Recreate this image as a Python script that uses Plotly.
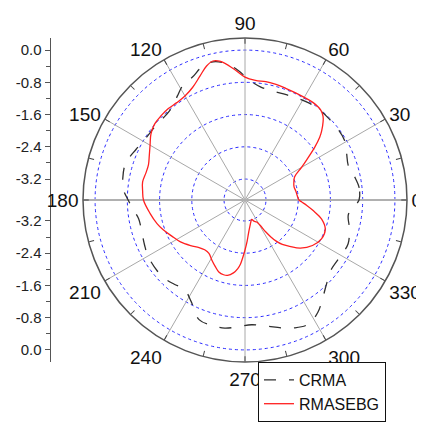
import plotly.graph_objects as go

# ---------------- data ----------------
rmasebg_theta = [0, 5, 10, 15, 20, 25, 30, 33, 37, 40, 42, 45, 47, 50, 55, 60, 65, 70, 75, 80, 85,
                 90, 95, 100, 103, 106, 110, 115, 120, 125, 130, 135, 140, 145, 150, 155, 160, 165,
                 170, 175, 180, 188, 195, 200, 206, 213, 220, 226, 231, 236, 241, 246, 250, 254,
                 257, 261, 264, 266, 268, 270, 273, 276, 280, 284, 289, 293, 298, 301, 303, 305,
                 307, 310, 314, 319, 326, 333, 340, 346, 351, 355, 358, 360]
rmasebg_r = [-2.38, -2.42, -2.44, -2.46, -2.43, -2.36, -2.10, -1.90, -1.56, -1.30, -1.16, -0.98,
             -0.88, -0.80, -0.77, -0.78, -0.78, -0.77, -0.75, -0.74, -0.74,
             -0.67, -0.45, -0.23, -0.18, -0.26, -0.45, -0.64, -0.74, -0.77, -0.76, -0.77, -0.79,
             -0.87, -1.00, -1.10, -1.17, -1.17, -1.14, -1.17, -1.20, -1.34, -1.46, -1.56, -1.69,
             -1.81, -1.96, -2.08, -2.13, -2.12, -2.02, -1.91, -1.82, -1.79, -1.80, -1.89, -2.01,
             -2.13, -2.31, -2.48, -2.70, -2.89, -3.04, -3.14, -3.21, -3.15, -3.10, -2.98, -2.78,
             -2.60, -2.45, -2.28, -2.12, -1.90, -1.70, -1.59, -1.60, -1.76, -2.00, -2.18, -2.31,
             -2.38]

crma_theta = [0, 6, 12, 18, 25, 31, 38, 45, 50, 57, 64, 70, 76, 82, 88, 93, 98, 103, 108, 113,
              118, 123, 128, 133, 140, 148, 155, 163, 170, 175, 180, 185, 190, 197, 204, 210,
              219, 225, 230, 236, 242, 249, 256, 261, 267, 273, 280, 286, 291, 297, 303, 309,
              315, 321, 330, 337, 345, 352, 357, 360]
crma_r = [-0.89, -0.87, -0.94, -1.02, -0.94, -0.84, -0.82, -0.82, -0.82, -0.84, -0.89, -0.92,
          -0.93, -0.89, -0.74, -0.50, -0.30, -0.20, -0.25, -0.40, -0.47, -0.64, -0.79, -0.84,
          -0.84, -0.82, -0.74, -0.62, -0.64, -0.69, -0.82, -0.94, -1.04, -1.04, -0.99, -0.94,
          -0.92, -0.94, -0.99, -1.04, -0.87, -0.54, -0.50, -0.50, -0.57, -0.62, -0.54, -0.42,
          -0.32, -0.26, -0.40, -0.64, -0.84, -0.97, -0.97, -0.94, -1.04, -1.13, -0.99, -0.89]

radial_ticks = [-3.2, -2.4, -1.6, -0.8, 0.0]
radial_minor = [-2.8, -2.0, -1.2, -0.4]
angle_ticks = list(range(0, 360, 15))
angle_labels = [str(a) if a % 30 == 0 else "" for a in angle_ticks]
spoke_angles = [30, 60, 90, 120, 150]

R_MIN, R_MAX = -3.72, 0.30

# ---------------- figure ----------------
# page body has an 8px default margin; size and place the figure accordingly
OFF = 8
W, H = 424 - OFF, 423 - OFF
font_family = "Arial, Liberation Sans, sans-serif"


def px_x(x):
    return (x - OFF) / W


def px_y(y):
    return 1 - (y - OFF) / H


fig = go.Figure()

# spokes (angular grid every 30 deg)
sr, st = [], []
for a in spoke_angles:
    sr += [R_MAX, R_MIN, R_MAX, None]
    st += [a, a, a + 180, None]
fig.add_trace(go.Scatterpolar(r=sr, theta=st, mode="lines",
                              line=dict(color="#a8a8a8", width=1),
                              hoverinfo="skip", showlegend=False))
fig.add_trace(go.Scatterpolar(r=[R_MAX, R_MIN, R_MAX], theta=[0, 0, 180], mode="lines",
                              line=dict(color="#b0b0b0", width=2),
                              hoverinfo="skip", showlegend=False))

fig.add_trace(go.Scatterpolar(r=crma_r, theta=crma_theta, mode="lines", name="CRMA",
                              line=dict(color="#303030", width=1.3, dash="12px,13px",
                                        shape="spline")))
fig.add_trace(go.Scatterpolar(r=rmasebg_r, theta=rmasebg_theta, mode="lines", name="RMASEBG",
                              line=dict(color="#ff2020", width=1.3, shape="spline")))

# dummy trace to create the cartesian subplot for the left scale
fig.add_trace(go.Scatter(x=[None], y=[None], showlegend=False, hoverinfo="skip"))

span = R_MAX - R_MIN
ytickvals = [v - R_MIN for v in radial_ticks] + [-(v - R_MIN) for v in radial_ticks]
yticktext = ["%.1f" % v for v in radial_ticks] * 2
yminor = [v - R_MIN for v in radial_minor] + [-(v - R_MIN) for v in radial_minor]

cx0, cx1 = px_x(83), px_x(407)
cy0, cy1 = px_y(362), px_y(38)

fig.update_layout(
    width=W, height=H,
    margin=dict(l=0, r=0, t=0, b=0, autoexpand=False),
    paper_bgcolor="white", plot_bgcolor="rgba(0,0,0,0)",
    font=dict(family=font_family, color="#111"),
    polar=dict(
        domain=dict(x=[cx0, cx1], y=[cy0, cy1]),
        bgcolor="white",
        radialaxis=dict(range=[R_MIN, R_MAX], tickvals=radial_ticks, showticklabels=False,
                        ticks="", showline=False, gridcolor="#2a2aff", griddash="dot",
                        gridwidth=1.2),
        angularaxis=dict(direction="counterclockwise", rotation=0,
                         tickvals=angle_ticks, ticktext=angle_labels,
                         ticks="inside", ticklen=5, tickcolor="#444", tickwidth=1,
                         showgrid=False, showline=True, linecolor="#555", linewidth=1.5,
                         tickfont=dict(size=19, family=font_family, color="#111")),
    ),
    xaxis=dict(visible=False, domain=[0.2, 0.9], range=[0, 1]),
    yaxis=dict(anchor="free", position=px_x(49.5), domain=[cy0, cy1],
               range=[-span, span], tickvals=ytickvals, ticktext=yticktext,
               ticks="outside", ticklen=5, tickcolor="#555", showline=True,
               linecolor="#555", linewidth=1, showgrid=False, zeroline=False,
               tickfont=dict(size=15, family=font_family, color="#222"),
               minor=dict(tickvals=yminor, ticks="outside", ticklen=4, tickcolor="#555",
                          showgrid=False)),
    legend=dict(x=px_x(258), y=px_y(422), xanchor="left", yanchor="bottom",
                bgcolor="white", bordercolor="#111", borderwidth=1,
                font=dict(size=16, family=font_family, color="#111"),
                tracegroupgap=0, itemwidth=30),
    showlegend=True,
)

fig.write_html("out.html")
